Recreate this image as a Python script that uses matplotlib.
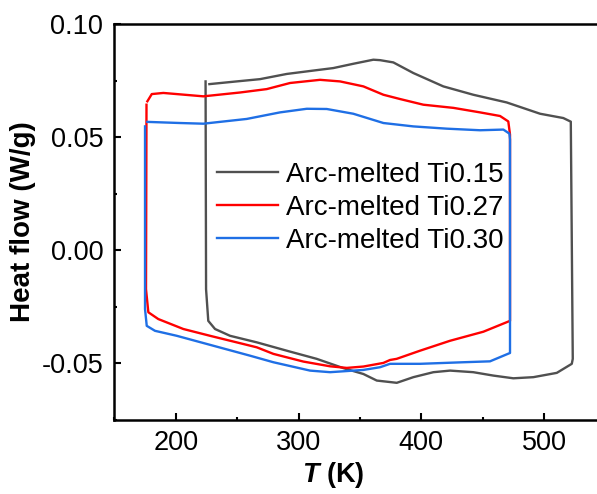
import matplotlib
matplotlib.use("Agg")
import matplotlib.pyplot as plt
from matplotlib.ticker import MultipleLocator

plt.rcParams['font.family'] = ['Liberation Sans', 'DejaVu Sans']
plt.rcParams['axes.unicode_minus'] = False
plt.rcParams['mathtext.fontset'] = 'custom'
plt.rcParams['mathtext.it'] = 'Liberation Sans:italic:bold'
plt.rcParams['mathtext.rm'] = 'Liberation Sans:bold'

# Ti0.15 loop (top branch -> right side -> bottom branch -> left side)
t_015 = [227.4, 249.6, 268.6, 290.4, 312.1, 328.3, 344.6, 360.9, 366.4, 377.2, 393.5, 417.9,
         442.3, 469.5, 496.7, 515.6, 521.7, 523.3,
         522.5, 510.3, 491.2, 474.9, 458.6, 442.3, 423.4, 409.8, 393.5, 380.0, 363.7, 352.8,
         336.5, 314.8, 293.1, 266.0, 244.2, 232.0, 226.5, 224.7, 224.3]
hf_015 = [0.0735, 0.0747, 0.0757, 0.0780, 0.0795, 0.0806, 0.0825, 0.0843, 0.0841, 0.0831, 0.0784, 0.0725,
          0.0688, 0.0654, 0.0604, 0.0585, 0.0569, -0.0480,
          -0.0502, -0.0542, -0.0561, -0.0566, -0.0554, -0.0539, -0.0532, -0.0539, -0.0561, -0.0586, -0.0576, -0.0547,
          -0.0521, -0.0480, -0.0448, -0.0407, -0.0378, -0.0348, -0.0312, -0.0172, 0.0747]

# Ti0.27 loop
t_027 = [176.9, 180.5, 189.9, 222.5, 252.4, 274.1, 293.1, 317.5, 333.8, 352.8, 369.1, 382.7,
         401.6, 426.1, 447.8, 464.1, 470.8, 472.2, 472.2,
         450.5, 423.4, 398.9, 379.9, 374.5, 369.1, 352.8, 339.3, 325.7, 303.9, 279.5, 266.0,
         227.9, 206.2, 185.8, 177.7, 175.8, 176.2]
hf_027 = [0.0659, 0.0691, 0.0696, 0.0681, 0.0698, 0.0713, 0.0740, 0.0754, 0.0747, 0.0725, 0.0688, 0.0669,
          0.0644, 0.0630, 0.0610, 0.0594, 0.0570, 0.0512, -0.0312,
          -0.0360, -0.0400, -0.0444, -0.0480, -0.0485, -0.0498, -0.0514, -0.0520, -0.0513, -0.0492, -0.0458, -0.0429,
          -0.0378, -0.0348, -0.0304, -0.0274, -0.0172, 0.0644]

# Ti0.30 loop
t_030 = [176.9, 203.5, 222.5, 257.8, 284.9, 306.7, 323.0, 344.6, 369.1, 393.5, 420.7, 447.8,
         466.8, 471.7, 472.2, 472.2,
         455.9, 434.2, 398.9, 374.5, 366.4, 352.8, 325.7, 309.4, 279.5, 260.5, 225.2, 200.8,
         183.1, 176.4, 175.0, 175.0]
hf_030 = [0.0568, 0.0563, 0.0560, 0.0581, 0.0610, 0.0626, 0.0625, 0.0604, 0.0563, 0.0548, 0.0538, 0.0531,
          0.0534, 0.0516, 0.0490, -0.0454,
          -0.0491, -0.0495, -0.0502, -0.0502, -0.0517, -0.0529, -0.0539, -0.0532, -0.0495, -0.0466, -0.0414, -0.0378,
          -0.0356, -0.0334, -0.0260, 0.0548]

labels = ['Arc-melted Ti0.15', 'Arc-melted Ti0.27', 'Arc-melted Ti0.30']
colors = ['#505050', '#ff0000', '#1f6fe5']

fig = plt.figure(figsize=(5.97, 4.94), dpi=100)
ax = fig.add_axes([0.1915, 0.150, 0.8434, 0.801])

ax.plot(t_015, hf_015, color=colors[0], lw=1.7, label=labels[0])
ax.plot(t_027, hf_027, color=colors[1], lw=1.7, label=labels[1])
ax.plot(t_030, hf_030, color=colors[2], lw=1.7, label=labels[2])

ax.set_xlim(150, 560)
ax.set_ylim(-0.075, 0.10)
ax.xaxis.set_major_locator(MultipleLocator(100))
ax.xaxis.set_minor_locator(MultipleLocator(50))
ax.yaxis.set_major_locator(MultipleLocator(0.05))
ax.yaxis.set_minor_locator(MultipleLocator(0.025))
ax.yaxis.set_major_formatter(plt.FormatStrFormatter('%.2f'))

for s in ax.spines.values():
    s.set_linewidth(1.8)
ax.tick_params(which='major', direction='in', length=5, width=1.5, labelsize=19.5)
ax.tick_params(which='minor', direction='in', length=2.5, width=1.5)
ax.tick_params(axis='x', which='major', pad=7)
ax.tick_params(axis='y', which='major', pad=8)

ax.set_xlabel(r'$T$ (K)', fontsize=19.5, fontweight='bold')
ax.set_ylabel('Heat flow (W/g)', fontsize=20, fontweight='bold')
ax.xaxis.set_label_coords(0.434, -0.102)
ax.yaxis.set_label_coords(-0.155, 0.5)

ax.legend(loc='upper left', bbox_to_anchor=(0.204, 0.652), frameon=False, fontsize=20,
          handlelength=2.2, handletextpad=0.3, labelspacing=0.25, borderpad=0, borderaxespad=0)

fig.savefig('out.png', dpi=100)
